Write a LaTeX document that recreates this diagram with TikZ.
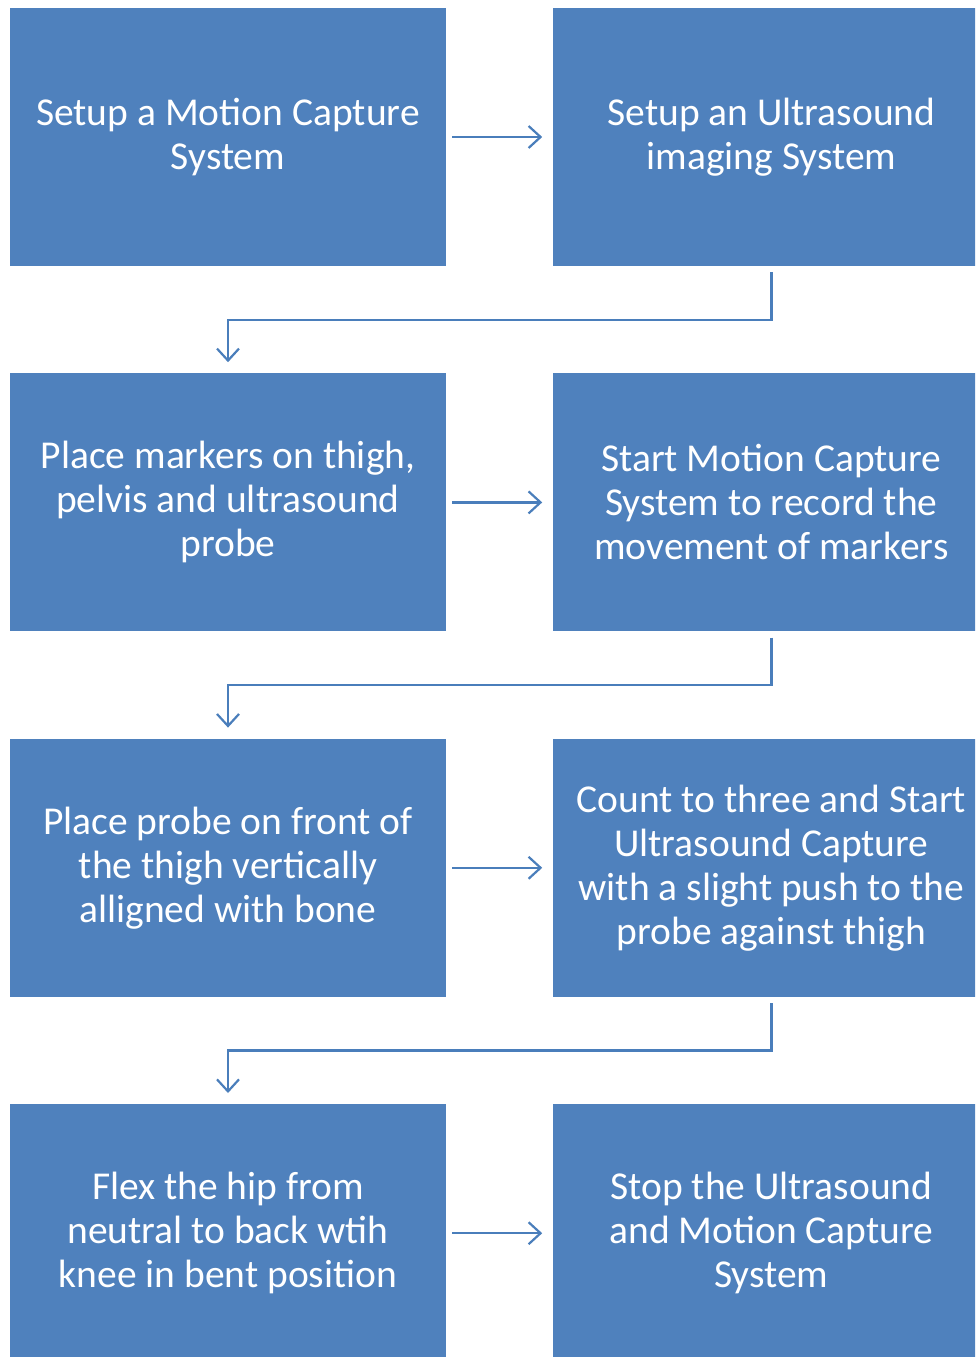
\documentclass[tikz,border=0pt]{standalone}
\usepackage{fontspec}
\setmainfont{Carlito}
\usetikzlibrary{arrows.meta,positioning,calc}
\definecolor{boxblue}{HTML}{4F81BD}
\definecolor{arrowblue}{HTML}{4A7EBB}

\begin{document}
\begin{tikzpicture}[x=1pt,y=-1pt,node distance=107pt,
  stepbox/.style={fill=boxblue,text=white,minimum width=436pt,minimum height=258pt,
    align=center,inner sep=0pt,font=\fontsize{39.5}{44}\selectfont},
  flow/.style={draw=arrowblue,line width=2.2pt,-{Straight Barb[length=12pt,width=22pt]}}]
\useasboundingbox (0,0) rectangle (975,1357);
\clip (0,0) rectangle (975,1357);
% left column, then right column
\node[stepbox] (mocap) at (228,137) {Setup a Motion Capture\\System};
\node[stepbox,right=of mocap] (ultra) {Setup an Ultrasound\\imaging System};
\node[stepbox,below=of mocap] (markers) {Place markers on thigh,\\pelvis and ultrasound\\probe};
\node[stepbox,right=of markers] (record) {Start Motion Capture\\System to record the\\movement of markers};
\node[stepbox,below=of markers] (probe) {Place probe on front of\\the thigh vertically\\alligned with bone};
\node[stepbox,right=of probe] (count) {Count to three and Start\\Ultrasound Capture\\with a slight push to the\\probe against thigh};
\node[stepbox,below=of probe] (flex) {Flex the hip from\\neutral to back wtih\\knee in bent position};
\node[stepbox,right=of flex] (stop) {Stop the Ultrasound\\and Motion Capture\\System};
% arrows across
\foreach \a/\b in {mocap/ultra,markers/record,probe/count,flex/stop}
  \draw[flow,shorten <=6pt,shorten >=11pt] (\a.east) -- (\b.west);
% elbows down to next row
\foreach \a/\b in {ultra/markers,record/probe,count/flex}{
  \coordinate (mid) at ($(\a.south)!0.5!(\b.north)$);
  \draw[flow,shorten <=6pt,shorten >=11pt] (\a.south) -- (\a.south |- mid) -- (\b.north |- mid) -- (\b.north);
}
\end{tikzpicture}
\end{document}
